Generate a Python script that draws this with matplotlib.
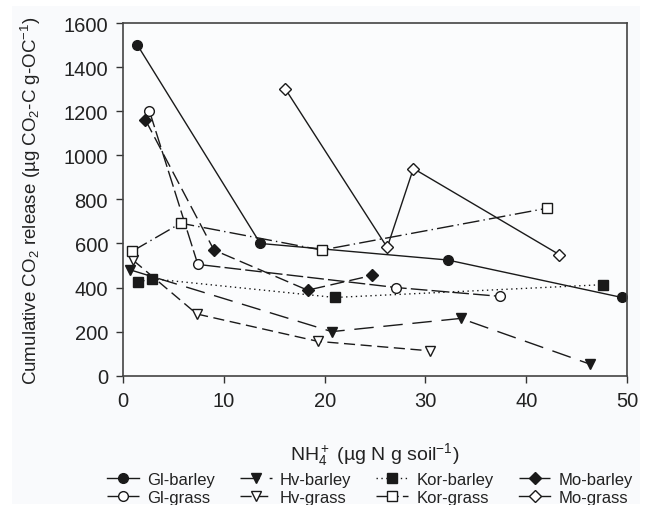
import matplotlib
matplotlib.use("Agg")
import matplotlib.pyplot as plt
from matplotlib.patches import Rectangle

plt.rcParams['font.family'] = ['Liberation Sans', 'DejaVu Sans']
plt.rcParams['mathtext.fontset'] = 'custom'
plt.rcParams['mathtext.rm'] = 'Liberation Sans'
plt.rcParams['mathtext.it'] = 'Liberation Sans:italic'
plt.rcParams['mathtext.bf'] = 'Liberation Sans:bold'

# NH4+ (x) and cumulative CO2 release (y) per soil / crop combination
gl_barley_x = [1.4, 13.6, 32.2, 49.5]
gl_barley_y = [1500, 600, 525, 355]
gl_grass_x = [2.6, 7.4, 27.1, 37.4]
gl_grass_y = [1200, 505, 400, 360]
hv_barley_x = [0.7, 20.7, 33.5, 46.3]
hv_barley_y = [480, 200, 260, 53]
hv_grass_x = [1.0, 7.3, 19.3, 30.4]
hv_grass_y = [523, 280, 156, 113]
kor_barley_x = [1.5, 2.8, 21.0, 47.6]
kor_barley_y = [425, 440, 355, 413]
kor_grass_x = [0.9, 5.7, 19.7, 42.1]
kor_grass_y = [565, 692, 570, 760]
mo_barley_x = [2.2, 9.0, 18.3, 24.7]
mo_barley_y = [1160, 570, 388, 455]
mo_grass_x = [16.1, 26.2, 28.8, 43.3]
mo_grass_y = [1300, 582, 940, 549]

x_ticks = [0, 10, 20, 30, 40, 50]
y_ticks = [0, 200, 400, 600, 800, 1000, 1200, 1400, 1600]

fig = plt.figure(figsize=(6.49, 5.06), dpi=100)
fig.patch.set_facecolor('white')
fig.patches.append(Rectangle((12 / 649, 1 / 506), 628 / 649, 498 / 506,
                             transform=fig.transFigure, facecolor='#f9fafc',
                             edgecolor='none', zorder=-10))

ax = fig.add_axes([0.190, 0.2555, 0.776, 0.697])
ax.set_facecolor('#fbfcfd')

lc = '#1a1a1a'
series = [
    ('Gl-barley', gl_barley_x, gl_barley_y, 'o', True, '-'),
    ('Gl-grass', gl_grass_x, gl_grass_y, 'o', False, (0, (12, 3))),
    ('Hv-barley', hv_barley_x, hv_barley_y, 'v', True, (0, (14, 7))),
    ('Hv-grass', hv_grass_x, hv_grass_y, 'v', False, (0, (8, 4))),
    ('Kor-barley', kor_barley_x, kor_barley_y, 's', True, (0, (1, 2.5))),
    ('Kor-grass', kor_grass_x, kor_grass_y, 's', False, (0, (12, 3, 1, 3))),
    ('Mo-barley', mo_barley_x, mo_barley_y, 'D', True, (0, (10, 4))),
    ('Mo-grass', mo_grass_x, mo_grass_y, 'D', False, '-'),
]
marker_sizes = {'o': 7, 'v': 7, 's': 7, 'D': 6}

for label, xs, ys, mk, filled, ls in series:
    ax.plot(xs, ys, linestyle=ls, color=lc, linewidth=1.0,
            marker=mk, markersize=marker_sizes[mk],
            markerfacecolor=lc if filled else 'white',
            markeredgecolor=lc, markeredgewidth=1.0, label=label)

ax.set_xlim(0, 50)
ax.set_ylim(0, 1600)
ax.set_xticks(x_ticks)
ax.set_yticks(y_ticks)
ax.tick_params(direction='out', length=5, width=1, colors='#333333',
               labelsize=14.5, labelcolor='#222222', pad=6)
for sp in ax.spines.values():
    sp.set_color('#444444')
    sp.set_linewidth(1.2)

ax.set_xlabel('NH$_4^+$ (µg N g soil$^{-1}$)', fontsize=14,
              color='#222222', labelpad=22)
ax.set_ylabel('Cumulative CO$_2$ release (µg CO$_2$-C g-OC$^{-1}$)',
              fontsize=13.5, color='#222222', labelpad=15)

leg = ax.legend(loc='upper center', bbox_to_anchor=(0.49, -0.24), ncol=4,
                frameon=False, fontsize=12, handlelength=1.9,
                handletextpad=0.5, columnspacing=1.5, labelspacing=0.15,
                borderpad=0.2)
for t in leg.get_texts():
    t.set_color('#222222')

fig.savefig('out.png', dpi=100)
